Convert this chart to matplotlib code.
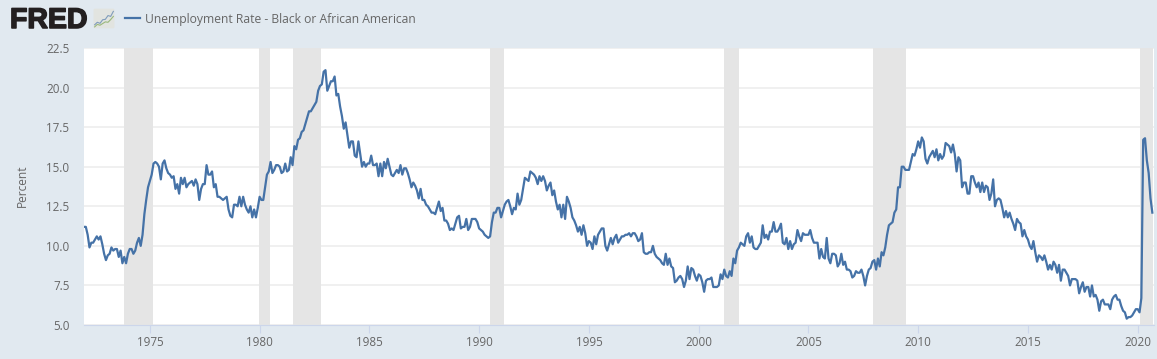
import numpy as np
import matplotlib
matplotlib.use("Agg")
import matplotlib.pyplot as plt
import matplotlib.patheffects as pe
from matplotlib.patches import FancyBboxPatch

START_YEAR = 1972
END_YEAR = 2020.72
rate_1970s = [
    11.2, 11.2, 10.7, 9.9, 10.2, 10.2, 10.4, 10.6, 10.4, 10.6, 10.1, 9.5,
    9.1, 9.4, 9.5, 9.9, 9.7, 9.8, 9.8, 9.3, 9.7, 8.9, 9.3, 8.9,
    9.5, 9.8, 9.8, 9.5, 9.7, 10.2, 10.5, 10.0, 10.7, 12.0, 12.9, 13.7,
    14.1, 14.5, 15.2, 15.3, 15.2, 15.0, 14.2, 15.2, 15.4, 14.9, 14.6, 14.5,
    14.3, 14.4, 13.6, 13.9, 13.3, 14.3, 13.9, 14.3, 13.7, 13.9, 14.0, 14.1,
    13.8, 14.2, 13.9, 12.9, 13.6, 13.9, 13.9, 15.1, 14.5, 14.5, 14.7, 13.7,
    13.9, 13.1, 13.1, 13.0, 12.9, 13.0, 13.1, 12.3, 11.9, 11.8, 12.6, 12.6,
    12.5, 13.1, 12.5, 13.1, 12.6, 12.3, 12.1, 12.5, 11.8, 12.3, 11.8, 12.4,
]
rate_1980s = [
    13.1, 12.9, 12.9, 13.7, 14.5, 14.7, 15.3, 14.6, 14.8, 15.1, 15.1, 15.0,
    14.6, 14.7, 15.2, 14.7, 14.8, 15.6, 15.1, 16.3, 16.1, 16.7, 16.8, 17.2,
    17.3, 17.7, 18.1, 18.5, 18.5, 18.7, 18.9, 19.1, 19.8, 20.1, 20.2, 21.0,
    21.1, 19.8, 20.1, 20.4, 20.4, 20.7, 19.5, 19.6, 18.8, 18.2, 17.4, 17.8,
    17.0, 16.2, 16.6, 16.6, 15.7, 15.6, 16.6, 15.8, 15.0, 15.3, 15.0, 15.2,
    15.2, 15.7, 15.1, 15.1, 15.2, 14.4, 15.2, 14.4, 15.3, 14.9, 15.5, 15.0,
    14.5, 14.4, 14.6, 14.8, 14.6, 15.1, 14.5, 14.9, 14.9, 14.6, 14.2, 13.7,
    14.0, 13.8, 13.5, 13.0, 13.6, 12.9, 12.9, 12.6, 12.5, 12.3, 12.1, 12.1,
    12.0, 12.4, 12.8, 12.2, 12.4, 11.6, 11.6, 11.4, 11.0, 11.1, 11.0, 11.4,
    11.8, 11.9, 11.1, 11.2, 11.2, 11.7, 11.0, 11.2, 11.7, 11.7, 11.7, 11.5,
]
rate_1990s = [
    11.1, 11.0, 10.9, 10.7, 10.6, 10.5, 10.6, 11.5, 12.1, 12.1, 12.4, 12.4,
    11.8, 12.2, 12.6, 12.8, 12.9, 12.5, 12.0, 12.4, 12.3, 13.3, 12.6, 12.9,
    13.6, 14.3, 14.2, 14.1, 14.7, 14.6, 14.5, 14.3, 13.9, 14.4, 14.1, 14.4,
    14.1, 13.5, 13.8, 14.0, 13.2, 13.5, 12.8, 12.3, 12.6, 11.8, 12.6, 11.7,
    13.1, 12.8, 12.4, 11.8, 11.6, 11.3, 10.9, 11.2, 10.7, 11.3, 10.8, 10.0,
    10.3, 10.2, 9.8, 10.6, 10.1, 10.7, 10.9, 11.1, 11.1, 10.0, 9.7, 10.1,
    10.5, 10.1, 10.5, 10.7, 10.2, 10.4, 10.6, 10.6, 10.7, 10.7, 10.8, 10.6,
    10.8, 10.8, 10.6, 10.3, 10.4, 10.8, 9.6, 9.5, 9.5, 9.6, 9.6, 10.0,
    9.5, 9.3, 9.2, 9.1, 8.9, 8.8, 9.5, 8.8, 9.2, 8.7, 8.6, 7.7,
    7.8, 8.0, 8.1, 7.9, 7.4, 7.8, 8.7, 7.9, 8.6, 8.5, 8.1, 7.8,
]
rate_2000s = [
    8.2, 8.1, 7.7, 7.1, 7.8, 7.9, 7.9, 8.0, 7.4, 7.4, 7.4, 7.5,
    8.2, 7.9, 8.5, 8.1, 8.0, 8.4, 8.1, 9.2, 8.9, 9.7, 9.9, 10.2,
    10.1, 10.0, 10.6, 10.8, 10.2, 10.6, 9.9, 9.8, 9.8, 10.0, 10.2, 11.3,
    10.5, 10.7, 10.4, 10.9, 10.9, 11.5, 10.9, 10.9, 11.1, 11.4, 10.2, 10.1,
    10.5, 9.8, 10.3, 9.8, 10.1, 10.2, 11.0, 10.6, 10.3, 10.8, 10.7, 10.7,
    10.7, 11.0, 10.5, 10.2, 10.2, 10.2, 9.2, 9.8, 9.3, 9.2, 10.5, 9.2,
    8.9, 9.5, 9.5, 9.4, 8.7, 8.9, 9.5, 8.8, 9.0, 8.5, 8.5, 8.4,
    8.0, 8.1, 8.4, 8.3, 8.3, 8.5, 8.1, 7.5, 8.1, 8.5, 8.6, 9.0,
    9.1, 8.5, 9.2, 8.7, 9.6, 9.4, 9.9, 10.7, 11.3, 11.4, 11.5, 12.1,
    12.3, 13.7, 13.7, 15.0, 15.0, 14.8, 14.8, 14.8, 15.3, 15.8, 15.7, 16.1,
]
rate_2010s = [
    16.6, 16.2, 16.85, 16.6, 15.5, 15.2, 15.6, 15.8, 16.0, 15.6, 16.1, 15.4,
    15.8, 15.5, 15.7, 16.5, 16.4, 16.3, 15.9, 16.4, 15.8, 14.7, 15.6, 15.4,
    13.7, 14.0, 14.0, 13.3, 13.3, 14.4, 14.4, 14.0, 13.7, 14.0, 13.4, 14.0,
    13.4, 13.8, 13.7, 12.9, 13.3, 14.2, 12.5, 12.9, 13.0, 12.9, 12.4, 11.8,
    12.2, 11.8, 12.1, 11.7, 11.4, 11.0, 11.7, 11.5, 11.4, 10.6, 11.0, 10.6,
    10.4, 10.0, 9.8, 10.3, 9.6, 9.0, 9.4, 9.3, 9.1, 9.4, 9.0, 8.5,
    8.8, 8.5, 9.0, 8.8, 8.3, 8.8, 7.8, 8.5, 8.5, 8.3, 8.1, 7.5,
    7.9, 7.9, 7.9, 7.8, 7.0, 7.4, 7.7, 7.1, 7.4, 7.4, 6.8, 7.5,
    6.8, 6.9, 6.6, 5.9, 6.5, 6.6, 6.3, 6.3, 6.3, 6.0, 6.6, 6.8,
    6.9, 6.6, 6.6, 6.2, 5.9, 5.8, 5.4, 5.5, 5.5, 5.6, 5.8, 6.0,
]
rate_2020 = [6.0, 5.8, 6.7, 16.7, 16.8, 15.4, 14.6, 13.0, 12.1]

recession_starts = [1973.83, 1979.99, 1981.51, 1990.50, 2001.17, 2007.96, 2020.12]
recession_ends = [1975.14, 1980.48, 1982.80, 1991.13, 2001.84, 2009.45, 2020.72]

y_ticks = [5.0, 7.5, 10.0, 12.5, 15.0, 17.5, 20.0, 22.5]
x_ticks = [1975, 1980, 1985, 1990, 1995, 2000, 2005, 2010, 2015, 2020]
series_name = "Unemployment Rate - Black or African American"
y_title = "Percent"

icon_blue = [2, 3.2, 2.7, 4.4, 4.6, 6.4, 6.0, 8.4]
icon_green = [1, 2.2, 1.8, 2.6, 3.4, 3.2, 4.5, 6.0]

BG = "#e1e9f0"
LINE = "#4572a7"
TXT = "#666666"
W, H = 1157, 359

plt.rcParams["font.family"] = ["Open Sans", "DejaVu Sans"]
fig = plt.figure(figsize=(W / 100, H / 100), dpi=100, facecolor=BG)
ax = fig.add_axes([84 / W, 1 - 325 / H, (1153.5 - 84) / W, (325 - 48) / H], facecolor="white")

rate = np.array(rate_1970s + rate_1980s + rate_1990s + rate_2000s + rate_2010s + rate_2020)
dates = START_YEAR + np.arange(len(rate)) / 12

for s, e in zip(recession_starts, recession_ends):
    ax.axvspan(s, e, color="#e5e5e5", lw=0, zorder=1.5)
ax.plot(dates, rate, color=LINE, lw=1.6, zorder=3, solid_joinstyle="round")

ax.set_xlim(START_YEAR, END_YEAR)
ax.set_ylim(5, 22.5)
ax.set_yticks(y_ticks)
ax.set_yticklabels([f"{v:.1f}" for v in y_ticks], color=TXT, fontsize=8.4)
ax.set_xticks(x_ticks)
ax.set_xticklabels([str(v) for v in x_ticks], color=TXT, fontsize=8.4)
ax.grid(axis="y", color="#eeeeee", lw=1.2, zorder=1)
ax.set_axisbelow(True)
for side in ("top", "right", "left"):
    ax.spines[side].set_visible(False)
ax.spines["bottom"].set_color("#ccd6eb")
ax.spines["bottom"].set_linewidth(0.8)
ax.tick_params(axis="y", length=0, pad=10.5)
ax.tick_params(axis="x", length=6, width=0.8, color="#ccd6eb", pad=2)

fig.text(22 / W, 1 - 186 / H, y_title, rotation=90, color=TXT, fontsize=8.6,
         ha="center", va="center")

# Header: FRED wordmark, small icon and legend
logo = fig.text(10 / W, 1 - 28 / H, "FRED", family="Liberation Sans", weight="bold",
                fontsize=20.5, color="#231f20", ha="left", va="baseline")
logo.set_path_effects([pe.withStroke(linewidth=1.1, foreground="#231f20")])

icon = fig.add_axes([93 / W, 1 - 29 / H, 22 / W, 21 / H])
icon.set_axis_off()
icon.set_xlim(0, 8)
icon.set_ylim(0, 10)
icon.add_patch(FancyBboxPatch((0.2, 0.3), 7.6, 9.4, boxstyle="round,pad=0,rounding_size=0.6",
                              fc="#e2e4e0", ec="none"))
icon_x = np.linspace(0.6, 7.4, len(icon_blue))
icon.plot(icon_x, icon_blue, color="#7f9cbb", lw=0.8)
icon.plot(icon_x, icon_green, color="#9ab87c", lw=0.8)

fig.add_artist(plt.Line2D([125 / W, 140 / W], [1 - 18 / H, 1 - 18 / H], color=LINE, lw=1.6))
fig.text(145 / W, 1 - 19.5 / H, series_name, color=TXT, fontsize=8.7, ha="left", va="center")

fig.savefig("out.png", dpi=100, facecolor=BG)
